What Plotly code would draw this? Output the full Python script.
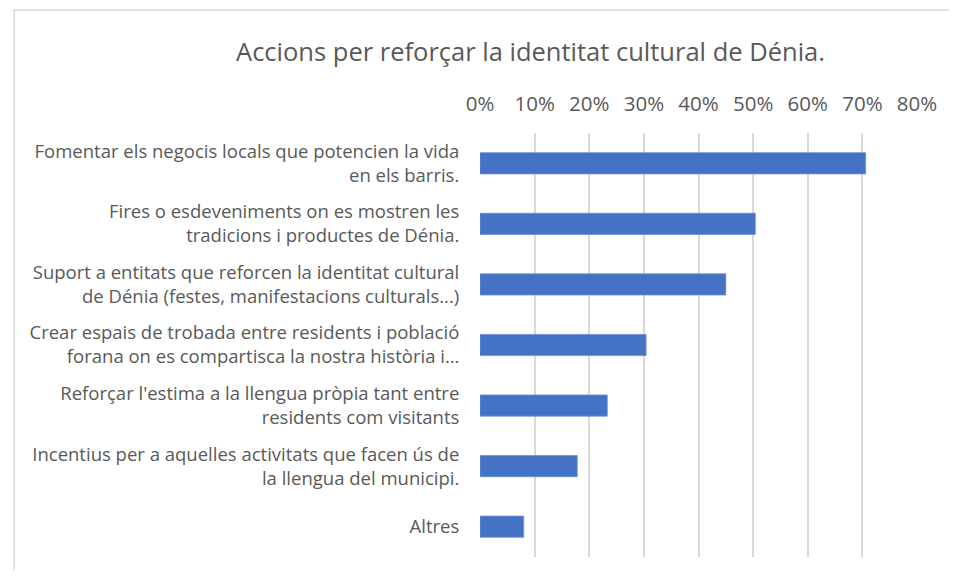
import plotly.graph_objects as go

categories = [
    "Fomentar els negocis locals que potencien la vida<br>en els barris.",
    "Fires o esdeveniments on es mostren les<br>tradicions i productes de Dénia.",
    "Suport a entitats que reforcen la identitat cultural<br>de Dénia (festes, manifestacions culturals...)",
    "Crear espais de trobada entre residents i població<br>forana on es compartisca la nostra història i…",
    "Reforçar l'estima a la llengua pròpia tant entre<br>residents com visitants",
    "Incentius per a aquelles activitats que facen ús de<br>la llengua del municipi.",
    "Altres",
]
values = [0.706, 0.504, 0.450, 0.304, 0.233, 0.178, 0.080]
tick_vals = [0, 0.1, 0.2, 0.3, 0.4, 0.5, 0.6, 0.7, 0.8]
tick_text = ["0%", "10%", "20%", "30%", "40%", "50%", "60%", "70%", "80%"]
title_text = "Accions per reforçar la identitat cultural de Dénia."

# page body adds an 8px margin; figure is sized to fit inside the window
OFF = 8
W, H = 957 - 2 * OFF, 578 - 2 * OFF
L, T = 480 - OFF, 133 - OFF
R = W - (921 - OFF)
B = H - (557 - OFF)

fig = go.Figure(go.Bar(
    x=values, y=categories, orientation="h",
    marker=dict(color="#4472C4", line=dict(color="#6a8fd4", width=0.8)),
    hoverinfo="x+y",
))

pw = W - L - R
ph = H - T - B
def px_x(x):
    return (x - L) / pw
def px_y(y):
    return (H - B - y) / ph

fig.update_layout(
    width=W, height=H,
    margin=dict(l=L, r=R, t=T, b=B, pad=0),
    paper_bgcolor="white", plot_bgcolor="white",
    bargap=0.65,
    showlegend=False,
    font=dict(family="Open Sans, sans-serif", color="#595959"),
    title=dict(text=title_text, x=(530.5 - OFF) / W, xanchor="center", xref="container",
               y=1 - (52 - OFF) / H, yanchor="middle", yref="container",
               font=dict(size=25.5, color="#595959", family="Open Sans, sans-serif")),
    xaxis=dict(
        side="top", range=[0, 0.8], tickvals=tick_vals, ticktext=tick_text,
        showgrid=True, gridcolor="#d9d9d9", gridwidth=1.5,
        zeroline=False, showline=False, ticks="",
        tickfont=dict(size=20.5, color="#595959"), ticklabelstandoff=17,
        fixedrange=True,
    ),
    yaxis=dict(
        autorange="reversed", showgrid=False, zeroline=False, showline=False,
        ticks="outside", ticklen=16, tickcolor="rgba(0,0,0,0)",
        tickfont=dict(size=18.5, color="#595959"),
        fixedrange=True,
    ),
    shapes=[dict(type="rect", xref="paper", yref="paper",
                 x0=px_x(10 - OFF), x1=px_x(W + 10), y0=px_y(H + 10), y1=px_y(10 - OFF),
                 line=dict(color="#d9d9d9", width=1.5), fillcolor="rgba(0,0,0,0)",
                 layer="below")],
)

fig.write_html("out.html")
